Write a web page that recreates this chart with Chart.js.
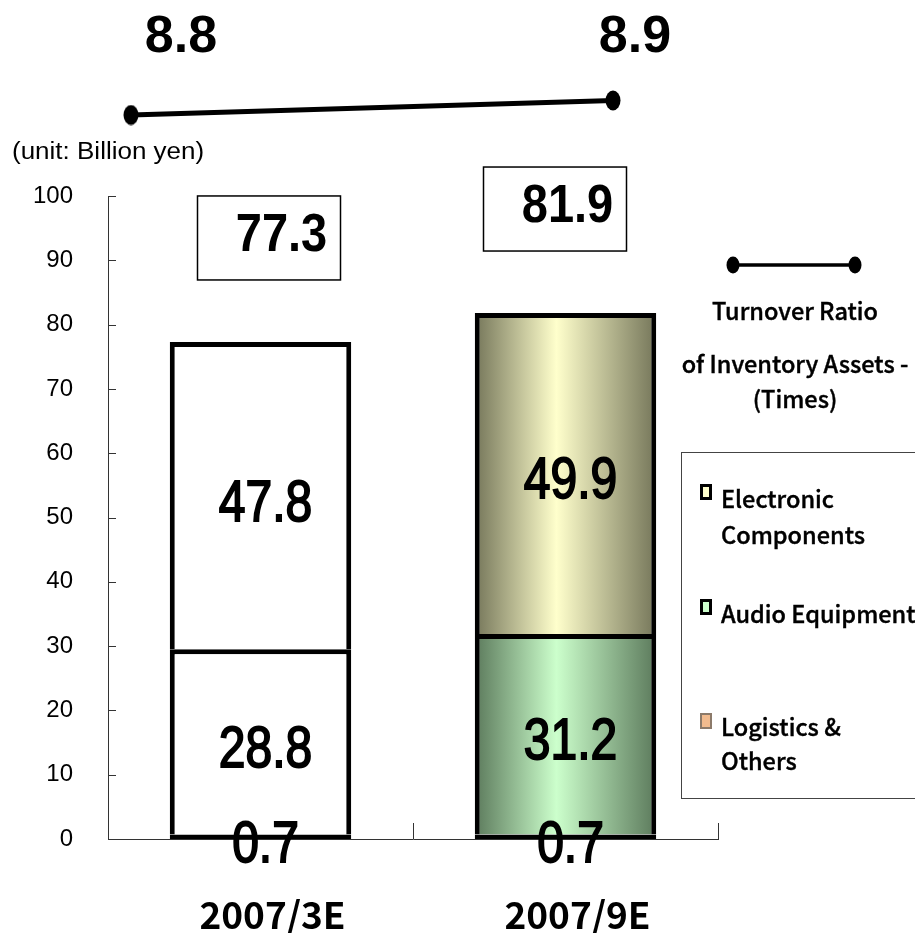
<!DOCTYPE html>
<html>
<head>
<meta charset="utf-8">
<script src="https://cdn.jsdelivr.net/npm/chart.js@4/dist/chart.umd.min.js"></script>
<style>
  html, body { margin: 0; padding: 0; background: #fff; overflow: hidden; }
  #stage { position: relative; width: 915px; height: 933px; overflow: hidden; }
  #stage canvas { position: absolute; left: 0; top: 0; }
  .txt { position: absolute; color: #000; white-space: nowrap; }
  .unit { left: 12px; top: 136px; font: 26px 'Liberation Sans', Arial, sans-serif; line-height: 30px; transform: scaleY(0.92); transform-origin: left center; }
  .key { font: 500 23.5px 'Noto Sans CJK JP', sans-serif; line-height: 30px; -webkit-text-stroke: 0.4px #000; }
  .ctr { left: 680px; width: 230px; text-align: center; }
  #segBox { position: absolute; left: 681px; top: 452px; width: 260px; height: 345px; border: 1px solid #444; }
  .sw { position: absolute; width: 6px; height: 10px; border: 3px solid #000; }
</style>
</head>
<body>
<div id="stage">
  <canvas id="inv" width="915" height="933"></canvas>
  <canvas id="ratio" width="915" height="140"></canvas>

  <div class="txt unit">(unit: Billion yen)</div>

  <svg style="position:absolute;left:722px;top:253px" width="146" height="24">
    <line x1="11" y1="12" x2="133" y2="12" stroke="#000" stroke-width="3.5"/>
    <ellipse cx="11" cy="12" rx="6.5" ry="8.5" fill="#000"/>
    <ellipse cx="133" cy="12" rx="6.5" ry="8.5" fill="#000"/>
  </svg>
  <div class="txt key ctr" style="top:295px">Turnover Ratio</div>
  <div class="txt key ctr" style="top:348px">of Inventory Assets -</div>
  <div class="txt key ctr" style="top:383px">(Times)</div>

  <div id="segBox"></div>
  <div class="sw" style="left:700px;top:484px;background:#ffffcc"></div>
  <div class="txt key" style="left:721px;top:483px">Electronic</div>
  <div class="txt key" style="left:721px;top:519px">Components</div>
  <div class="sw" style="left:700px;top:599px;background:#ccffcc"></div>
  <div class="txt key" style="left:721px;top:598px">Audio Equipment</div>
  <div class="sw" style="left:700px;top:713px;background:#f2bb8e;border-color:#8c7a6a;border-width:2px;width:8px;height:12px"></div>
  <div class="txt key" style="left:721px;top:711px">Logistics &amp;</div>
  <div class="txt key" style="left:721px;top:745px">Others</div>
</div>

<script>
// Inventory by segment (billion yen) and inventory turnover (times)
const categories = ['2007/3E', '2007/9E'];
const logisticsOthers = [0.7, 0.7];
const audioEquipment = [28.8, 31.2];
const electronicComponents = [47.8, 49.9];
const inventoryTotals = [77.3, 81.9];
const turnoverRatio = [8.8, 8.9];
const yTickMin = 0, yTickMax = 100, yTickStep = 10;

const NUM_FONT = "'Liberation Sans', Arial, sans-serif";
const BAR_PCT = 0.595;

// Horizontal shading across each bar: darker edges, light centre.
// The first period's bar is drawn plain white.
function barShade(edge, mid) {
  return (c) => {
    if (c.dataIndex === 0) return '#ffffff';
    const chart = c.chart;
    const xs = chart.scales.x;
    if (!chart.chartArea || !xs) return mid;
    const cx = xs.getPixelForValue(c.dataIndex);
    const half = xs.width / chart.data.labels.length * BAR_PCT / 2;
    const g = chart.ctx.createLinearGradient(cx - half, 0, cx + half, 0);
    g.addColorStop(0, edge);
    g.addColorStop(0.45, mid);
    g.addColorStop(1, edge);
    return g;
  };
}

// Short tick marks drawn inward from both axes
const innerTicks = {
  id: 'innerTicks',
  beforeDatasetsDraw(chart) {
    const { ctx, chartArea, scales: { x, y } } = chart;
    ctx.save();
    ctx.strokeStyle = '#333';
    ctx.lineWidth = 1;
    ctx.beginPath();
    y.ticks.forEach((t, i) => {
      if (t.value === yTickMin) return;
      const py = Math.round(y.getPixelForTick(i)) + 0.5;
      ctx.moveTo(chartArea.left, py);
      ctx.lineTo(chartArea.left + 8, py);
    });
    const n = x.ticks.length;
    for (let i = 1; i <= n; i++) {
      const px = i < n ? (x.getPixelForTick(i - 1) + x.getPixelForTick(i)) / 2 : chartArea.right;
      const rx = Math.round(px) + 0.5;
      ctx.moveTo(rx, chartArea.bottom);
      ctx.lineTo(rx, chartArea.bottom - 16);
    }
    ctx.stroke();
    ctx.restore();
  }
};

// Segment values inside bars, stack totals in boxes above
const barNotes = {
  id: 'barNotes',
  afterDatasetsDraw(chart, args, opts) {
    const { ctx } = chart;
    ctx.save();
    ctx.fillStyle = '#000';
    ctx.strokeStyle = '#000';
    ctx.textAlign = 'center';
    ctx.textBaseline = 'middle';
    chart.data.datasets.forEach((ds, di) => {
      const meta = chart.getDatasetMeta(di);
      meta.data.forEach((el, i) => {
        const cy = (el.y + el.base) / 2 + 9;
        ctx.save();
        ctx.translate(el.x + 5, cy);
        ctx.scale(1, 1.2);
        ctx.font = '48px ' + NUM_FONT;
        ctx.lineWidth = 1.6;
        ctx.fillText(ds.data[i].toFixed(1), 0, 0);
        ctx.strokeText(ds.data[i].toFixed(1), 0, 0);
        ctx.restore();
      });
    });
    const topMeta = chart.getDatasetMeta(chart.data.datasets.length - 1);
    topMeta.data.forEach((el, i) => {
      const tx = el.x + opts.shift[i];
      const ty = el.y - 106;
      ctx.save();
      ctx.lineWidth = 1.5;
      ctx.strokeRect(tx - 84, ty - 40, 143, 84);
      ctx.translate(tx, ty);
      ctx.scale(1, 1.15);
      ctx.font = 'bold 47px ' + NUM_FONT;
      ctx.fillText(inventoryTotals[i].toFixed(1), 0, 0);
      ctx.restore();
    });
    ctx.restore();
  }
};

const segBorder = { top: 5, left: 5, right: 5, bottom: 0 };

new Chart(document.getElementById('inv'), {
  type: 'bar',
  data: {
    labels: categories,
    datasets: [
      {
        label: 'Logistics & Others',
        data: logisticsOthers,
        backgroundColor: barShade('#8a6440', '#ffcc99'),
        borderColor: '#000',
        borderWidth: 5,
        borderSkipped: false
      },
      {
        label: 'Audio Equipment',
        data: audioEquipment,
        backgroundColor: barShade('#5c7a5c', '#ccffcc'),
        borderColor: '#000',
        borderWidth: segBorder,
        borderSkipped: false
      },
      {
        label: 'Electronic Components',
        data: electronicComponents,
        backgroundColor: barShade('#75765a', '#ffffcc'),
        borderColor: '#000',
        borderWidth: segBorder,
        borderSkipped: false
      }
    ]
  },
  options: {
    responsive: false,
    animation: false,
    devicePixelRatio: 1,
    layout: { padding: { top: 196, right: 197, left: 0, bottom: 0 } },
    datasets: { bar: { barPercentage: BAR_PCT, categoryPercentage: 1 } },
    scales: {
      x: {
        stacked: true,
        offset: true,
        grid: { display: false, drawTicks: false },
        border: { display: true, color: '#333', width: 1 },
        ticks: {
          color: '#000',
          font: { family: "'Noto Sans CJK JP', sans-serif", size: 37, weight: 'bold' },
          padding: 54,
          labelOffset: 12,
          maxRotation: 0
        },
        afterFit(s) { s.height = 94; }
      },
      y: {
        stacked: true,
        min: yTickMin,
        max: yTickMax,
        grid: { display: false, drawTicks: false },
        border: { display: true, color: '#333', width: 1 },
        ticks: {
          stepSize: yTickStep,
          color: '#000',
          font: { family: NUM_FONT, size: 24 },
          padding: 35
        },
        afterFit(s) { s.width = 108; }
      }
    },
    plugins: {
      legend: { display: false },
      tooltip: { enabled: false },
      barNotes: { shift: [21, 2] }
    }
  },
  plugins: [innerTicks, barNotes]
});

// Elliptical marker for the turnover line
const marker = document.createElement('canvas');
marker.width = 16; marker.height = 21;
(function () {
  const m = marker.getContext('2d');
  m.fillStyle = '#000';
  m.beginPath();
  m.ellipse(8, 10.5, 7.5, 10, 0, 0, Math.PI * 2);
  m.fill();
})();

const ratioNotes = {
  id: 'ratioNotes',
  afterDatasetsDraw(chart, args, opts) {
    const { ctx } = chart;
    ctx.save();
    ctx.fillStyle = '#000';
    ctx.textAlign = 'center';
    ctx.textBaseline = 'alphabetic';
    ctx.font = 'bold 52px ' + NUM_FONT;
    chart.getDatasetMeta(0).data.forEach((el, i) => {
      ctx.fillText(turnoverRatio[i].toFixed(1), el.x + opts.shift[i], 52);
    });
    ctx.restore();
  }
};

new Chart(document.getElementById('ratio'), {
  type: 'line',
  data: {
    labels: categories,
    datasets: [{
      label: 'Turnover Ratio of Inventory Assets (Times)',
      data: turnoverRatio,
      borderColor: '#000',
      borderWidth: 5,
      pointStyle: marker,
      pointBackgroundColor: '#000',
      clip: false
    }]
  },
  options: {
    responsive: false,
    animation: false,
    devicePixelRatio: 1,
    layout: { padding: { left: 131, right: 302, top: 86, bottom: 10.5 } },
    scales: {
      x: { type: 'category', display: false, offset: false },
      y: { display: false, min: 8.7, max: 9.0 }
    },
    plugins: {
      legend: { display: false },
      tooltip: { enabled: false },
      ratioNotes: { shift: [50, 22] }
    }
  },
  plugins: [ratioNotes]
});
</script>
</body>
</html>
